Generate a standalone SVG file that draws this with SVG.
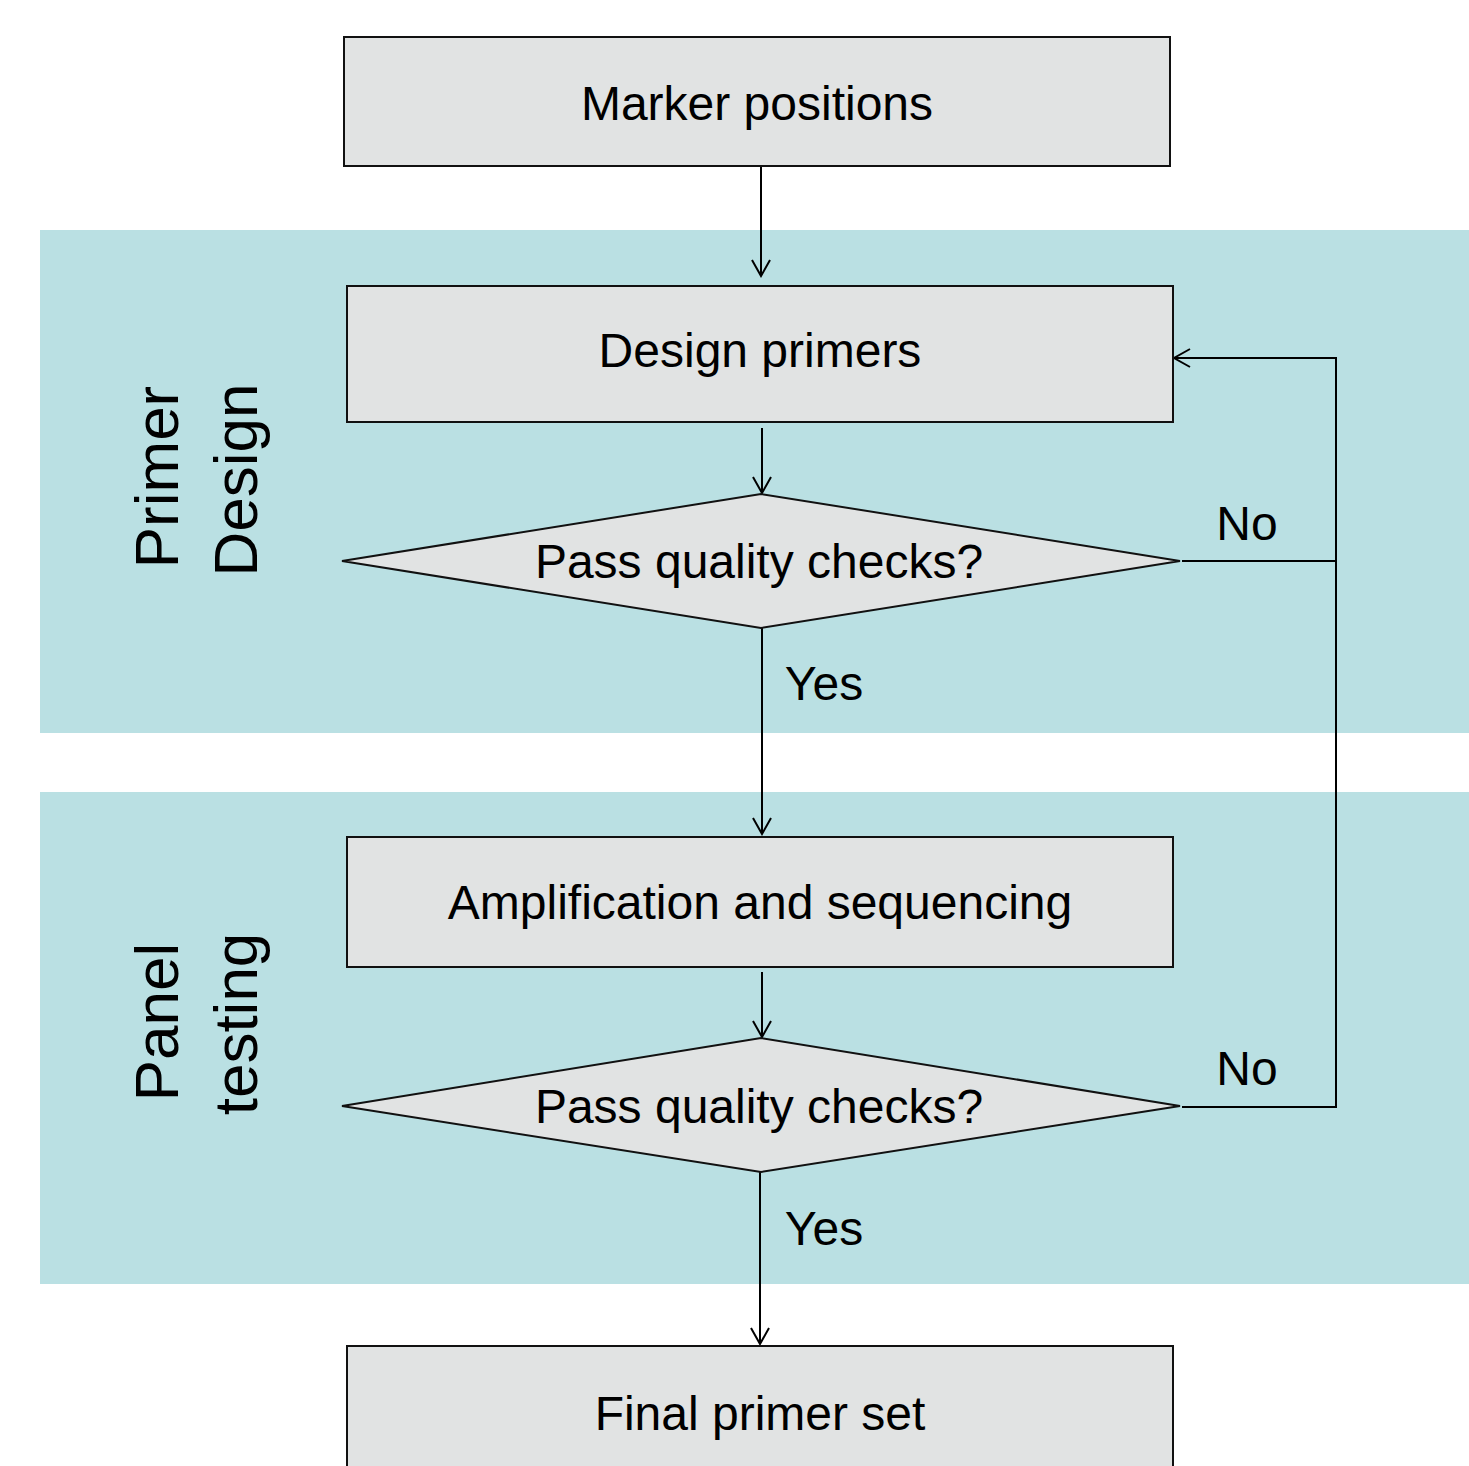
<svg xmlns="http://www.w3.org/2000/svg" width="1469" height="1466" viewBox="0 0 1469 1466">
<style>
.band{fill:#BAE0E3;stroke:none}
.box{fill:#E1E3E3;stroke:#111;stroke-width:2}
.t{font-family:"Liberation Sans",Arial,sans-serif;font-size:48px;fill:#000;text-anchor:middle}
.side{font-family:"Liberation Sans",Arial,sans-serif;font-size:62px;fill:#000;text-anchor:middle}
.c{fill:none;stroke:#000;stroke-width:2}
</style>
<defs>
<marker id="ah" viewBox="0 0 20 20" refX="18" refY="10" markerWidth="20" markerHeight="20" markerUnits="userSpaceOnUse" orient="auto">
<path d="M2,1 L18,10 L2,19" fill="none" stroke="#000" stroke-width="2"/>
</marker>
</defs>
<rect width="1469" height="1466" fill="#fff"/>
<g id="band-primer-design">
<rect class="band" x="40" y="230" width="1429" height="503"/>
<text class="side" transform="translate(178,477) rotate(-90)">Primer</text>
<text class="side" transform="translate(257,480) rotate(-90)">Design</text>
</g>
<g id="band-panel-testing">
<rect class="band" x="40" y="792" width="1429" height="492"/>
<text class="side" transform="translate(178,1022) rotate(-90)">Panel</text>
<text class="side" transform="translate(257,1024) rotate(-90)">testing</text>
</g>
<g id="connectors">
<line class="c" x1="761" y1="166" x2="761" y2="276" marker-end="url(#ah)"/>
<line class="c" x1="762" y1="428" x2="762" y2="493" marker-end="url(#ah)"/>
<line class="c" x1="762" y1="628" x2="762" y2="834" marker-end="url(#ah)"/>
<line class="c" x1="762" y1="972" x2="762" y2="1037" marker-end="url(#ah)"/>
<line class="c" x1="760" y1="1172" x2="760" y2="1344" marker-end="url(#ah)"/>
<polyline class="c" points="1182,561 1336,561"/>
<polyline class="c" points="1182,1107 1336,1107 1336,358 1174,358" marker-end="url(#ah)"/>
<text class="t" x="824" y="700">Yes</text>
<text class="t" x="824" y="1245">Yes</text>
<text class="t" x="1247" y="540">No</text>
<text class="t" x="1247" y="1085">No</text>
</g>
<g id="node-marker-positions">
<rect class="box" x="344" y="37" width="826" height="129"/>
<text class="t" x="757" y="120">Marker positions</text>
</g>
<g id="node-design-primers">
<rect class="box" x="347" y="286" width="826" height="136"/>
<text class="t" x="760" y="367">Design primers</text>
</g>
<g id="node-check-1">
<polygon class="box" points="342,561 761,494 1180,561 761,628"/>
<text class="t" x="759" y="578">Pass quality checks?</text>
</g>
<g id="node-amplification">
<rect class="box" x="347" y="837" width="826" height="130"/>
<text class="t" x="760" y="919">Amplification and sequencing</text>
</g>
<g id="node-check-2">
<polygon class="box" points="342,1106 761,1038 1180,1106 761,1172"/>
<text class="t" x="759" y="1123">Pass quality checks?</text>
</g>
<g id="node-final">
<rect class="box" x="347" y="1346" width="826" height="130"/>
<text class="t" x="760" y="1430">Final primer set</text>
</g>
</svg>
